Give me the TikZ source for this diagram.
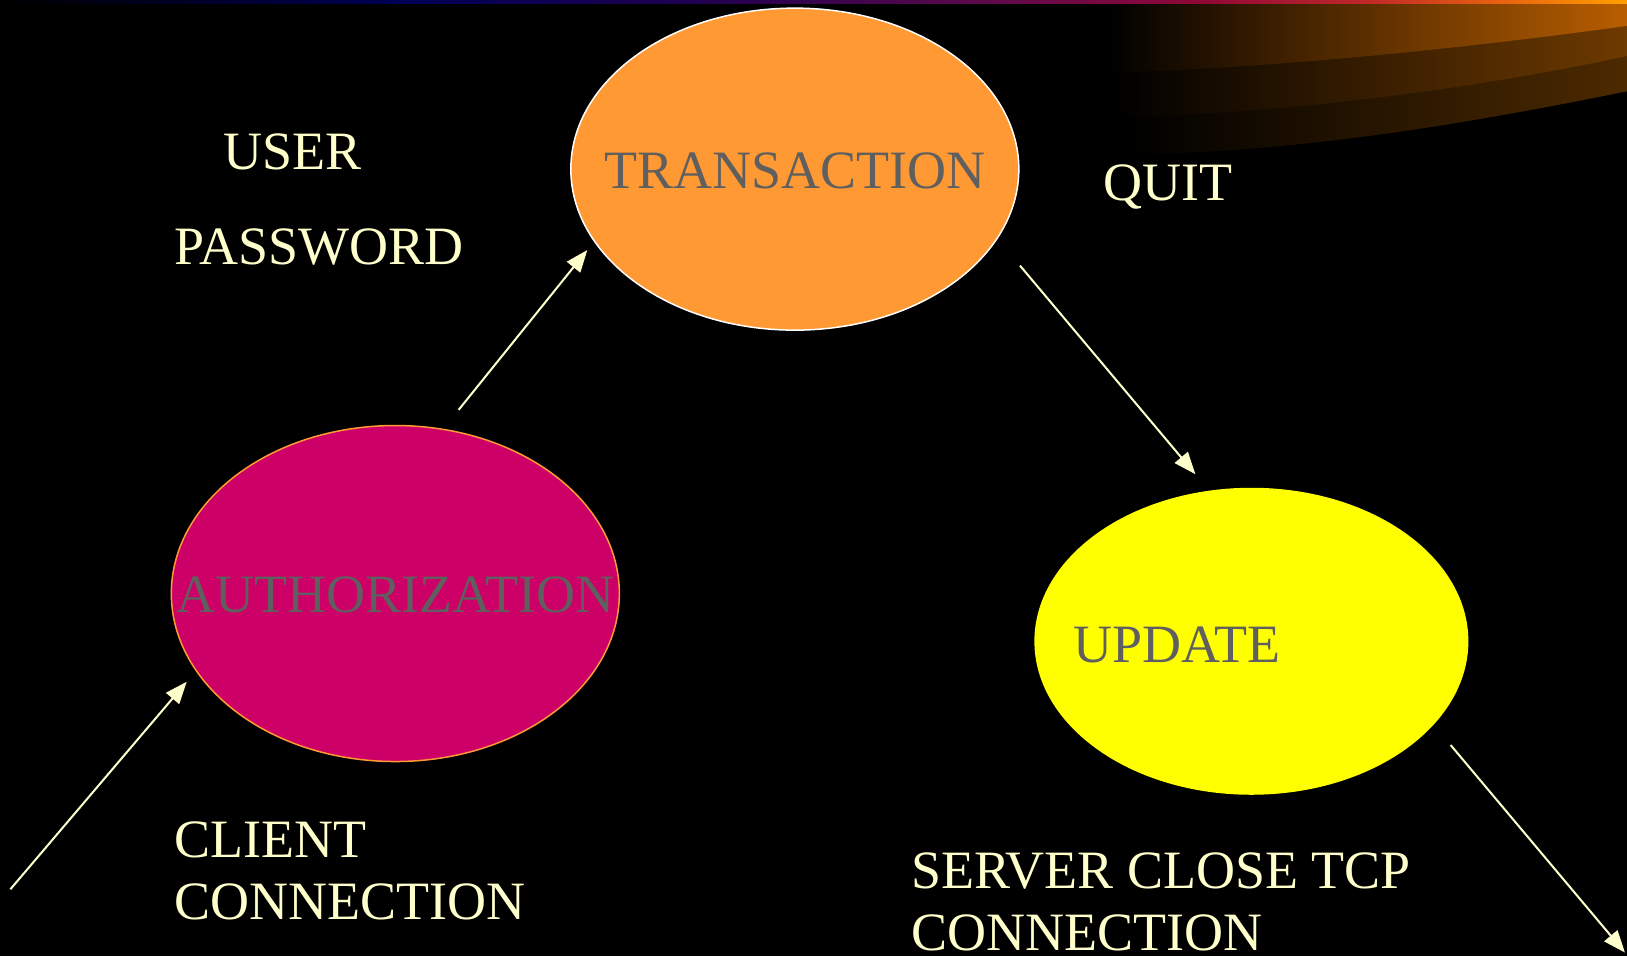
\documentclass[tikz,border=0pt]{standalone}
\usepackage{fontspec}
\setmainfont{Liberation Serif}
\usetikzlibrary{shapes.geometric, arrows.meta}
\definecolor{cream}{HTML}{FFFFCC}
\definecolor{slate}{HTML}{5F5F5F}
\definecolor{peach}{HTML}{FF9933}
\definecolor{berry}{HTML}{CC0066}
\definecolor{lemon}{HTML}{FFFF00}
\definecolor{band1}{HTML}{B85E00}
\definecolor{band2}{HTML}{6E3A00}
\definecolor{band3}{HTML}{4D2A00}
\definecolor{bar1}{HTML}{000055}
\definecolor{bar2}{HTML}{200050}
\definecolor{bar3}{HTML}{600A4A}
\definecolor{bar4}{HTML}{900838}
\definecolor{bar5}{HTML}{C02828}
\definecolor{bar6}{HTML}{E86010}
\definecolor{bar7}{HTML}{FFA000}
\pgfdeclarehorizontalshading{topbar}{100bp}{color(0bp)=(black); color(25bp)=(black);
  color(37.3bp)=(bar1); color(46.5bp)=(bar2); color(55.7bp)=(bar3);
  color(62bp)=(bar4); color(67bp)=(bar5); color(71bp)=(bar6);
  color(75bp)=(bar7); color(100bp)=(bar7)}

\begin{document}
\begin{tikzpicture}[x=1.0376pt, y=-1.0376pt,
	stage/.style={ellipse, inner sep=0pt},
	inner/.style={text=slate, inner sep=0pt, font=\fontsize{54}{62}\selectfont},
	outer/.style={text=cream, inner sep=0pt, anchor=base west, font=\fontsize{54}{62}\selectfont},
	flow/.style={draw=cream, line width=2pt, -{Triangle[length=22pt, width=17pt]}}]
	\fill[black] (0,0) rectangle (1568,921.35);
	\useasboundingbox (0,0) rectangle (1568,921.35);
	% corner swoosh
	\shade[left color=black, right color=band3] (1090,3)--(1568,3)--(1568,88) .. controls (1400,122) and (1250,146) .. (1090,149)--cycle;
	\shade[left color=black, right color=band2] (1075,3)--(1568,3)--(1568,54) .. controls (1400,90) and (1220,110) .. (1075,113)--cycle;
	\shade[left color=black, right color=band1] (1068,3)--(1568,3)--(1568,25) .. controls (1400,48) and (1220,66) .. (1068,70)--cycle;
	\shade[shading=topbar] (0,0) rectangle (1568,3);
	% states
	\node[stage, fill=peach, draw=white, line width=1.5pt, minimum width=448pt, minimum height=322pt] (trans) at (766,163) {};
	\node[stage, fill=berry, draw=peach, line width=1.5pt, minimum width=448pt, minimum height=336pt] (auth) at (381,572) {};
	\node[stage, fill=lemon, minimum width=434pt, minimum height=307pt] (upd) at (1206,618) {};
	\node[inner] (translabel) at (766,165) {TRANSACTION};
	\node[inner] (authlabel) at (381,573) {AUTHORIZATION};
	\node[inner] (updlabel) at (1134,622) {UPDATE};
	% commands
	\node[outer] (user) at (215,163) {USER};
	\node[outer] (pass) at (168,255) {PASSWORD};
	\node[outer] (quit) at (1063,193) {QUIT};
	\node[outer] (client) at (168,826) {CLIENT};
	\node[outer] (clientb) at (168,886) {CONNECTION};
	\node[outer] (server) at (878,856) {SERVER CLOSE TCP};
	\node[outer] (serverb) at (878,916) {CONNECTION};
	% transitions
	\coordinate (open) at (10,857);
	\coordinate (auth in) at (180,657);
	\coordinate (auth out) at (442,395);
	\coordinate (trans in) at (566,241);
	\coordinate (trans out) at (983,256);
	\coordinate (upd in) at (1152,457);
	\coordinate (upd out) at (1398,718);
	\coordinate (close) at (1566,918);
	\draw[flow] (open)--(auth in);
	\draw[flow] (auth out)--(trans in);
	\draw[flow] (trans out)--(upd in);
	\draw[flow] (upd out)--(close);
\end{tikzpicture}
\end{document}
